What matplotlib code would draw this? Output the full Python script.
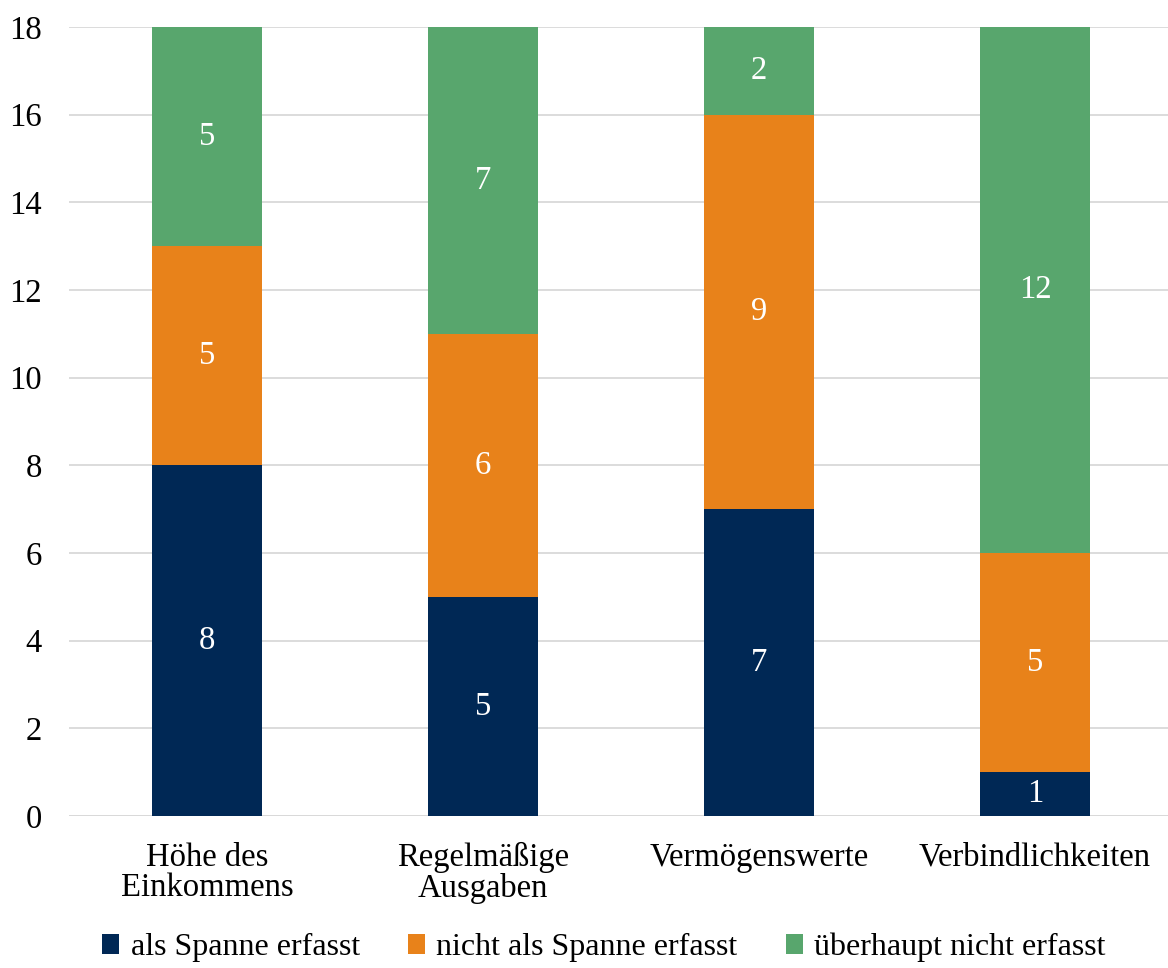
import matplotlib
matplotlib.use("Agg")
import matplotlib.pyplot as plt
from matplotlib.patches import Patch
import numpy as np

categories = ["Höhe des\nEinkommens", "Regelmäßige\nAusgaben", "Vermögenswerte", "Verbindlichkeiten"]
series_names = ["als Spanne erfasst", "nicht als Spanne erfasst", "überhaupt nicht erfasst"]
als_spanne = [8, 5, 7, 1]
nicht_als_spanne = [5, 6, 9, 5]
ueberhaupt_nicht = [5, 7, 2, 12]
y_ticks = [0, 2, 4, 6, 8, 10, 12, 14, 16, 18]

colors = ["#002855", "#E8821A", "#58A66D"]
fs = 23.5

plt.rcParams["font.family"] = ["Liberation Serif", "DejaVu Serif"]

fig = plt.figure(figsize=(11.68, 9.68), dpi=100)
ax = fig.add_axes([69 / 1168, 152 / 968, 1104 / 1168, 789 / 968])

x = np.arange(len(categories))
bottom = np.zeros(len(categories))
for vals, col in zip([als_spanne, nicht_als_spanne, ueberhaupt_nicht], colors):
    vals = np.array(vals, dtype=float)
    bars = ax.bar(x, vals, width=0.4, bottom=bottom, color=col, zorder=3)
    for b, v, b0 in zip(bars, vals, bottom):
        ax.text(b.get_x() + b.get_width() / 2, b0 + v / 2, f"{int(v)}",
                ha="center", va="center", color="white", fontsize=fs, zorder=4)
    bottom += vals

ax.set_xlim(-0.5, len(categories) - 0.5)
ax.set_ylim(0, 18)
ax.set_yticks(y_ticks)
ax.set_xticks(x)
ax.set_xticklabels(categories, fontsize=fs, linespacing=1.0)
ax.tick_params(axis="y", labelsize=fs, length=0, pad=19.5)
ax.tick_params(axis="x", length=0, pad=19)
ax.grid(axis="y", color="#D9D9D9", linewidth=1.3, zorder=0)
for s in ax.spines.values():
    s.set_visible(False)
ax.axhline(0, color="#D9D9D9", linewidth=1.3, zorder=1)

handles = [Patch(facecolor=c, edgecolor="none") for c in colors]
fig.legend(handles, series_names, loc="center", bbox_to_anchor=(0.517, 0.021),
           ncol=3, frameon=False, fontsize=23, handlelength=0.55, handleheight=0.55,
           handletextpad=0.35, columnspacing=1.5)

fig.savefig("out.png", dpi=100)
